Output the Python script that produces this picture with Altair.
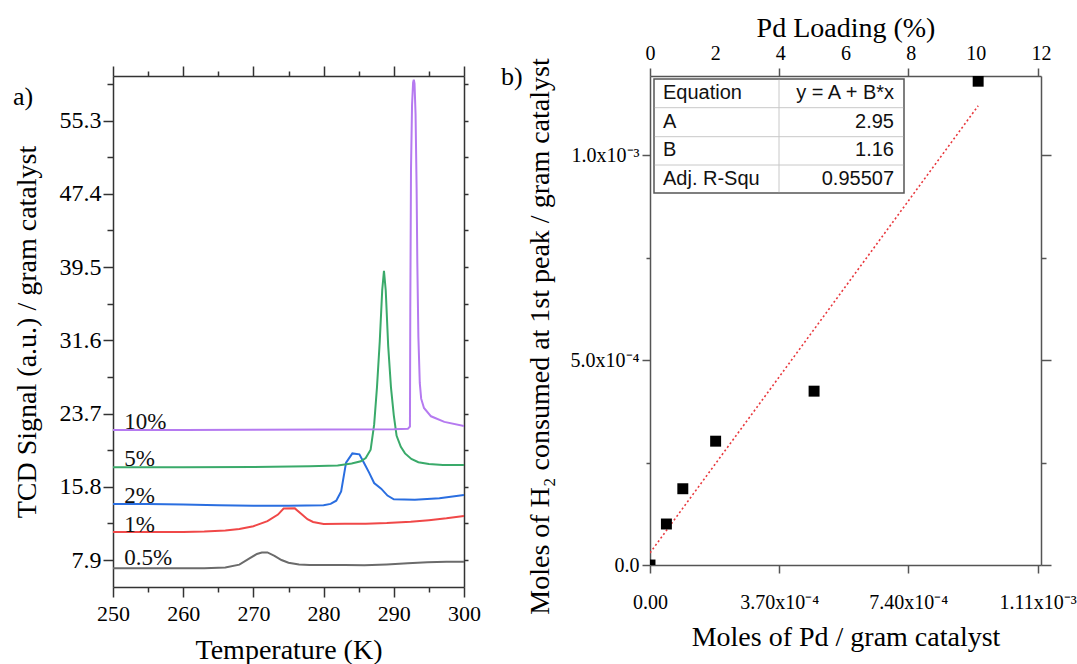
import altair as alt
import pandas as pd

SERIF = "Liberation Serif"
SANS = "Liberation Sans"

# ---------------- panel a) TPR curves ----------------
series_names = ["0.5%", "1%", "2%", "5%", "10%"]
series_colors = ["#6b6b6b", "#f04848", "#2a6ee0", "#3aaa6a", "#b57af0"]

t_05 = [250, 255, 260, 263, 266, 268, 269.5, 270.5, 271.2, 272, 273, 274, 275, 276.5, 278, 280, 283,
        285.8, 289, 292, 294.8, 297.5, 300]
s_05 = [7.0, 7.0, 7.0, 7.02, 7.1, 7.4, 8.1, 8.55, 8.7, 8.72, 8.35, 7.9, 7.6, 7.42, 7.36, 7.35, 7.35,
        7.33, 7.42, 7.55, 7.65, 7.71, 7.72]

t_1 = [250, 255, 260, 263, 266, 268, 270, 272, 273.5, 274.3, 275.9, 276.8, 277.7, 278.5, 280, 283, 286,
       289, 292.4, 295, 297.5, 300]
s_1 = [10.92, 10.92, 10.93, 10.97, 11.08, 11.25, 11.55, 12.1, 12.8, 13.45, 13.47, 12.9, 12.3, 12.0,
       11.78, 11.8, 11.8, 11.88, 12.03, 12.2, 12.4, 12.65]

t_2 = [250, 255, 260, 265, 270, 275, 280, 281, 281.8, 282.5, 283.2, 284.1, 285.1, 285.8, 286.5, 287.2,
       288.2, 289.1, 290, 293, 296.5, 300]
s_2 = [13.94, 13.93, 13.9, 13.8, 13.75, 13.76, 13.8, 13.95, 14.3, 15.3, 18.4, 19.4, 19.3, 18.3, 17.3,
       16.2, 15.6, 14.85, 14.45, 14.4, 14.55, 14.9]

t_5 = [250, 260, 270, 278, 282, 284, 285.3, 286, 286.7, 287.2, 287.6, 288.0, 288.35, 288.6, 288.85,
       289.2, 289.6, 290.0, 290.4, 291, 291.6, 292.5, 293.5, 295, 297, 300]
s_5 = [17.9, 17.9, 17.92, 18.0, 18.1, 18.3, 18.55, 18.9, 19.8, 22.5, 26.5, 31.5, 37.0, 39.1, 37.0,
       31.0, 26.5, 23.5, 21.3, 20.1, 19.4, 18.8, 18.45, 18.25, 18.15, 18.15]

t_10 = [250, 260, 270, 280, 290, 292.0, 292.3, 292.35, 292.45, 292.6, 292.75, 292.85, 292.95, 293.1,
        293.25, 293.35, 293.5, 293.7, 293.9, 294.3, 295.3, 297.2, 300]
s_10 = [21.92, 21.93, 21.95, 21.97, 22.0, 22.05, 22.3, 35.0, 50.0, 57.0, 59.4, 59.7, 59.3, 56.0,
        48.0, 40.0, 32.0, 27.0, 25.3, 24.3, 23.4, 22.8, 22.35]

label_T = [251.6, 251.6, 251.6, 251.6, 251.6]
label_S = [8.1, 11.7, 14.8, 18.8, 22.8]

x_ticks_a = [250, 260, 270, 280, 290, 300]
x_minor_a = [255, 265, 275, 285, 295]
y_ticks_a = [7.9, 15.8, 23.7, 31.6, 39.5, 47.4, 55.3]
y_minor_a = [11.85, 19.75, 27.65, 35.55, 43.45, 51.35, 59.25]

# ---------------- panel b) H2 uptake vs Pd ----------------
pd_moles = [0.0, 4.7e-5, 9.4e-5, 1.88e-4, 4.7e-4, 9.4e-4]
h2_moles = [0.0, 1.0e-4, 1.86e-4, 3.02e-4, 4.24e-4, 1.18e-3]
fit_pd = [0.0, 9.4e-4]
fit_h2 = [2.95e-5, 1.12e-3]

x_ticks_b = [0.0, 3.7e-4, 7.4e-4, 1.11e-3]
x_labels_b = ["0.00", "3.70x10\u207b\u2074", "7.40x10\u207b\u2074", "1.11x10\u207b\u00b3"]
y_ticks_b = [0.0, 5e-4, 1e-3]
y_labels_b = ["0.0", "5.0x10\u207b\u2074", "1.0x10\u207b\u00b3"]
y_minor_b = [2.5e-4, 7.5e-4]
load_ticks = [0, 2, 4, 6, 8, 10, 12]

table_col1 = ["Equation", "A", "B", "Adj. R-Squ"]
table_col2 = ["y = A + B*x", "2.95", "1.16", "0.95507"]


def label_expr(values, labels):
    expr = "''"
    for v, lab in reversed(list(zip(values, labels))):
        expr = f"abs(datum.value - {v!r}) < 1e-9 ? '{lab}' : ({expr})"
    return expr


def ax(**kw):
    base = dict(grid=False, labelFlush=False, labelOverlap=False, labelFont=SERIF,
                titleFont=SERIF, labelColor="black", titleColor="black",
                titleFontWeight="normal", labelFontSize=20, titleFontSize=28)
    base.update(kw)
    return alt.Axis(**base)


# ================= panel a =================
W_A, H_A = 351, 511
xs_a = alt.Scale(domain=[250, 300], nice=False, zero=False)
ys_a = alt.Scale(domain=[4.99, 60.1], nice=False, zero=False)
CA = "#333333"

rows = []
for name, ts, ss in zip(series_names, [t_05, t_1, t_2, t_5, t_10], [s_05, s_1, s_2, s_5, s_10]):
    for i, (t, s) in enumerate(zip(ts, ss)):
        rows.append({"series": name, "T": t, "S": s, "i": i})
df_tpr = pd.DataFrame(rows)

lines = alt.Chart(df_tpr).mark_line(strokeWidth=2, clip=True).encode(
    x=alt.X("T:Q", scale=xs_a,
            axis=ax(orient="bottom", values=x_ticks_a, tickSize=10, labelPadding=16,
                    labelBaseline="middle", labelFontSize=22, title="Temperature (K)", titleY=63,
                    titleBaseline="middle", domainColor=CA, tickColor=CA)),
    y=alt.Y("S:Q", scale=ys_a,
            axis=ax(orient="left", values=y_ticks_a, format=".1f", tickSize=10, labelPadding=2,
                    labelFontSize=24, title="TCD Signal (a.u.) / gram catalyst", titleX=-72,
                    domainColor=CA, tickColor=CA)),
    color=alt.Color("series:N", scale=alt.Scale(domain=series_names, range=series_colors), legend=None),
    order="i:Q",
)

df_lab = pd.DataFrame({"T": label_T, "S": label_S, "lab": series_names})
series_labels = alt.Chart(df_lab).mark_text(
    font=SERIF, fontSize=23, align="left", baseline="middle", color="#111111"
).encode(
    x=alt.X("T:Q", scale=xs_a, axis=None),
    y=alt.Y("S:Q", scale=ys_a, axis=None),
    text="lab:N",
)

df_ghost_a = pd.DataFrame({"T": [275.0], "S": [30.0]})
ghost = alt.Chart(df_ghost_a).mark_point(opacity=0)

ga1 = ghost.encode(
    x=alt.X("T:Q", scale=xs_a, axis=ax(orient="bottom", values=x_minor_a, tickSize=5, labels=False,
                                        domain=False, title=None, tickColor=CA)),
    y=alt.Y("S:Q", scale=ys_a, axis=ax(orient="left", values=y_minor_a, tickSize=6, labels=False,
                                        domain=False, title=None, tickColor=CA)),
)
ga2 = ghost.encode(
    x=alt.X("T:Q", scale=xs_a, axis=ax(orient="top", values=x_ticks_a, tickSize=10, labels=False,
                                        domain=True, title=None, tickColor=CA, domainColor=CA)),
    y=alt.Y("S:Q", scale=ys_a, axis=ax(orient="right", values=y_ticks_a + y_minor_a, tickSize=4,
                                        labels=False, domain=True, title=None, tickColor=CA,
                                        domainColor=CA)),
)
ga3 = ghost.encode(
    x=alt.X("T:Q", scale=xs_a, axis=ax(orient="top", values=x_minor_a, tickSize=5, labels=False,
                                        domain=False, title=None, tickColor=CA)),
)

tag_a = alt.Chart(pd.DataFrame({"t": ["a)"]})).mark_text(
    font=SERIF, fontSize=26, align="left", baseline="middle", color="black"
).encode(text="t:N", x=alt.value(-100), y=alt.value(21))

panel_a = alt.layer(lines, series_labels, ga1, ga2, ga3, tag_a).resolve_axis(
    x="independent", y="independent"
).properties(width=W_A, height=H_A)

# ================= panel b =================
W_B, H_B = 391, 489
XDOM_B = [0.0, 1.12e-3]
YDOM_B = [0.0, 1.1927e-3]
CB = "#555555"


def xs_b():
    return alt.Scale(domain=XDOM_B, nice=False, zero=False)


def ys_b():
    return alt.Scale(domain=YDOM_B, nice=False, zero=False)


df_pts = pd.DataFrame({"pd": pd_moles, "h2": h2_moles})
points = alt.Chart(df_pts).mark_square(size=120, color="black", opacity=1, clip=True).encode(
    x=alt.X("pd:Q", scale=xs_b(),
            axis=ax(orient="bottom", values=x_ticks_b, labelExpr=label_expr(x_ticks_b, x_labels_b),
                    tickSize=8, labelPadding=29, labelBaseline="middle", labelFontSize=20,
                    title="Moles of Pd / gram catalyst", titleY=72, titleBaseline="middle",
                    domainColor=CB, tickColor=CB)),
    y=alt.Y("h2:Q", scale=ys_b(),
            axis=ax(orient="left", values=y_ticks_b, labelExpr=label_expr(y_ticks_b, y_labels_b),
                    tickSize=8, labelPadding=3, labelFontSize=20,
                    title="Moles of H\u2082 consumed at 1st peak / gram catalyst",
                    titleX=-96, titleY=260, domainColor=CB, tickColor=CB)),
)

df_fit = pd.DataFrame({"pd": fit_pd, "h2": fit_h2})
fit_line = alt.Chart(df_fit).mark_line(color="#e8383d", strokeDash=[2, 2.5], strokeWidth=1.6,
                                       clip=True).encode(
    x=alt.X("pd:Q", scale=xs_b(), axis=None),
    y=alt.Y("h2:Q", scale=ys_b(), axis=None),
)

df_ghost_b = pd.DataFrame({"pd": [0.0], "h2": [0.0], "load": [0.0]})
ghost_b = alt.Chart(df_ghost_b).mark_point(opacity=0)

gb1 = ghost_b.encode(
    x=alt.X("pd:Q", scale=xs_b(), axis=ax(orient="top", values=x_ticks_b, tickSize=8, labels=False,
                                           domain=True, title=None, tickColor=CB, domainColor=CB)),
    y=alt.Y("h2:Q", scale=ys_b(), axis=ax(orient="right", values=y_ticks_b, tickSize=10, labels=False,
                                           domain=True, title=None, tickColor=CB, domainColor=CB)),
)
gb2 = ghost_b.encode(
    x=alt.X("load:Q", scale=alt.Scale(domain=[0, 12], nice=False, zero=False),
            axis=ax(orient="top", values=load_ticks, ticks=False, tickSize=0, labelPadding=23,
                    labelBaseline="middle", labelFontSize=20, domain=False,
                    title="Pd Loading (%)", titleY=-48, titleBaseline="middle")),
    y=alt.Y("h2:Q", scale=ys_b(), axis=ax(orient="right", values=y_minor_b, tickSize=5, labels=False,
                                           domain=False, title=None, tickColor=CB)),
)
gb3 = ghost_b.encode(
    y=alt.Y("h2:Q", scale=ys_b(), axis=ax(orient="left", values=y_minor_b, tickSize=4, labels=False,
                                           domain=False, title=None, tickColor=CB)),
)

# fit-result table
box = alt.Chart(pd.DataFrame({"k": [0]})).mark_rect(fill="white", stroke="#555555",
                                                     strokeWidth=1.5).encode(
    x=alt.value(4), x2=alt.value(254), y=alt.value(3), y2=alt.value(117)
)
grid_layers = []
for yy in [31.7, 60.7, 89.0]:
    grid_layers.append(
        alt.Chart(pd.DataFrame({"k": [0]})).mark_rule(color="#c8c8c8", strokeWidth=1).encode(
            x=alt.value(4.8), x2=alt.value(253.2), y=alt.value(yy)
        )
    )
grid_layers.append(
    alt.Chart(pd.DataFrame({"k": [0]})).mark_rule(color="#c8c8c8", strokeWidth=1).encode(
        x=alt.value(129), y=alt.value(3.8), y2=alt.value(116.2)
    )
)

df_tab = pd.DataFrame({"row": [0, 1, 2, 3], "c1": table_col1, "c2": table_col2})
row_scale = alt.Scale(type="point", domain=[0, 1, 2, 3], range=[17, 103], padding=0)
tab_c1 = alt.Chart(df_tab).mark_text(font=SANS, fontSize=20, align="left", baseline="middle",
                                     color="#111111").encode(
    x=alt.value(13), y=alt.Y("row:O", scale=row_scale, axis=None), text="c1:N"
)
tab_c2 = alt.Chart(df_tab).mark_text(font=SANS, fontSize=20, align="right", baseline="middle",
                                     color="#111111").encode(
    x=alt.value(244), y=alt.Y("row:O", scale=row_scale, axis=None), text="c2:N"
)

tag_b = alt.Chart(pd.DataFrame({"t": ["b)"]})).mark_text(
    font=SERIF, fontSize=26, align="left", baseline="middle", color="black"
).encode(text="t:N", x=alt.value(-149), y=alt.value(1))

panel_b = alt.layer(
    box, *grid_layers, tab_c1, tab_c2, fit_line, points, gb1, gb2, gb3, tag_b
).resolve_scale(x="independent", y="independent").properties(width=W_B, height=H_B)

chart = alt.hconcat(panel_a, panel_b, spacing=186, bounds="flush").properties(
    padding={"left": 12, "top": 14, "right": 0, "bottom": 0}
).configure_view(stroke=None).configure_axis(
    labelFont=SERIF, titleFont=SERIF, labelFontSize=20, titleFontSize=28,
    labelColor="black", titleColor="black", titleFontWeight="normal",
    tickWidth=1.5, domainWidth=1.5,
)

chart.save("out.html", embed_options={"renderer": "svg", "actions": False})
